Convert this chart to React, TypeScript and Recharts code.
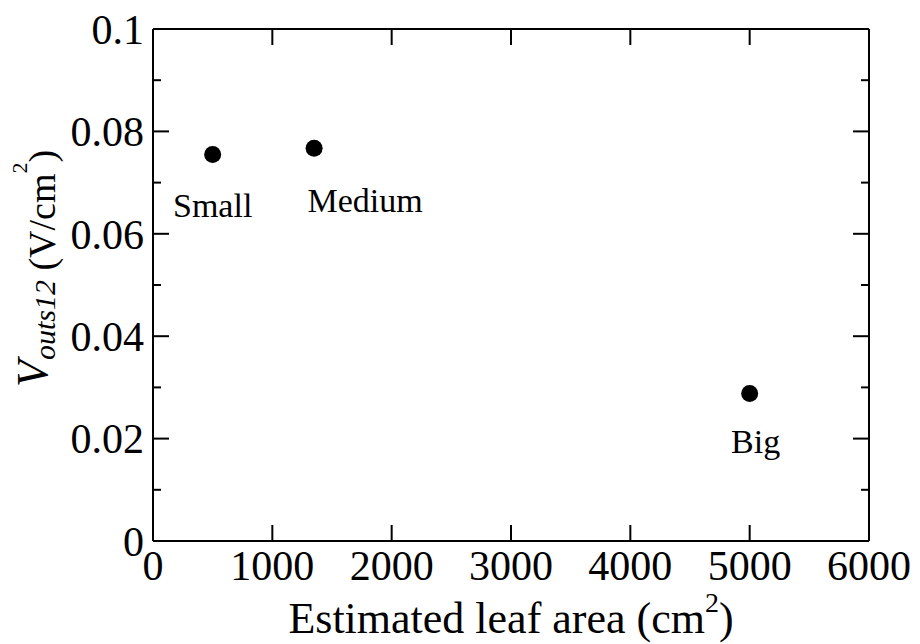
import React from "react";
import {
  ScatterChart,
  Scatter,
  XAxis,
  YAxis,
  ReferenceLine,
  Label,
} from "recharts";

// leaf size groups and measured values
const leafSizes = ["Small", "Medium", "Big"];
const leafArea = [500, 1350, 5000]; // cm^2
const vouts12 = [0.0755, 0.0767, 0.0288]; // V/cm^2

const xTicks = [0, 1000, 2000, 3000, 4000, 5000, 6000];
const yTicks = [0, 0.01, 0.02, 0.03, 0.04, 0.05, 0.06, 0.07, 0.08, 0.09, 0.1];

const data = leafSizes.map((name, i) => ({
  name,
  x: leafArea[i],
  y: vouts12[i],
}));

// plot frame (px)
const W = 920;
const H = 644;
const TOP = 29;
const LEFT = 153;
const RIGHT = 869;
const BOTTOM = 541;

const FONT = "'Liberation Serif', 'Times New Roman', serif";

// where each label sits relative to its dot
const labelShift: Record<string, [number, number]> = {
  Small: [0, 63],
  Medium: [51, 64],
  Big: [6, 59],
};

function XTick(props: any) {
  const { x, y, payload } = props;
  return (
    <g>
      <line x1={x} x2={x} y1={y} y2={y - 16} stroke="#000" strokeWidth={2} />
      <line x1={x} x2={x} y1={TOP} y2={TOP + 16} stroke="#000" strokeWidth={2} />
      <text
        x={x}
        y={y + 39}
        textAnchor="middle"
        fontSize={42}
        fontFamily={FONT}
        fill="#000"
      >
        {payload.value}
      </text>
    </g>
  );
}

function YTick(props: any) {
  const { x, y, payload } = props;
  const v: number = payload.value;
  const major = Math.round(v * 100) % 2 === 0;
  const len = major ? 16 : 8;
  const label = v === 0 ? "0" : v.toFixed(2).replace(/0$/, "");
  return (
    <g>
      <line x1={x} x2={x + len} y1={y} y2={y} stroke="#000" strokeWidth={2} />
      <line x1={RIGHT} x2={RIGHT - len} y1={y} y2={y} stroke="#000" strokeWidth={2} />
      {major && (
        <text
          x={x - 9}
          y={y}
          dy="0.35em"
          textAnchor="end"
          fontSize={42}
          fontFamily={FONT}
          fill="#000"
        >
          {label}
        </text>
      )}
    </g>
  );
}

function Dot(props: any) {
  const { cx, cy, payload } = props;
  const [dx, dy] = labelShift[payload.name] || [0, 60];
  return (
    <g>
      <circle cx={cx} cy={cy} r={8.5} fill="#000" />
      <text
        x={cx + dx}
        y={cy + dy}
        textAnchor="middle"
        fontSize={34}
        fontFamily={FONT}
        fill="#000"
      >
        {payload.name}
      </text>
    </g>
  );
}

function XTitle() {
  return (
    <text
      x={(LEFT + RIGHT) / 2}
      y={633}
      textAnchor="middle"
      fontSize={44}
      fontFamily={FONT}
      fill="#000"
    >
      Estimated leaf area (cm
      <tspan fontSize={28} dy={-21}>2</tspan>
      <tspan dy={21}>)</tspan>
    </text>
  );
}

function YTitle() {
  return (
    <text
      transform="translate(47,387) rotate(-90)"
      x={0}
      y={0}
      fontFamily={FONT}
      fill="#000"
    >
      <tspan fontSize={44} fontStyle="italic">V</tspan>
      <tspan fontSize={30} fontStyle="italic" dy={8}>outs12</tspan>
      <tspan fontSize={38}> (V/cm</tspan>
      <tspan fontSize={22} dy={-28}>2</tspan>
      <tspan fontSize={38} dy={28}>)</tspan>
    </text>
  );
}

export default function App() {
  return (
    <div style={{ position: "absolute", left: 0, top: 0, background: "#fff" }}>
      <ScatterChart
        width={W}
        height={H}
        margin={{ top: TOP, right: W - RIGHT, bottom: 0, left: 0 }}
      >
        <XAxis
          type="number"
          dataKey="x"
          domain={[0, 6000]}
          ticks={xTicks}
          interval={0}
          allowDataOverflow
          height={H - BOTTOM}
          tickSize={0}
          tickMargin={0}
          tick={<XTick />}
          axisLine={{ stroke: "#000", strokeWidth: 2 }}
        >
          <Label content={<XTitle />} />
        </XAxis>
        <YAxis
          type="number"
          dataKey="y"
          domain={[0, 0.1]}
          ticks={yTicks}
          interval={0}
          allowDataOverflow
          width={LEFT}
          tickSize={0}
          tickMargin={0}
          tick={<YTick />}
          axisLine={{ stroke: "#000", strokeWidth: 2 }}
        >
          <Label content={<YTitle />} />
        </YAxis>
        <ReferenceLine y={0.1} stroke="#000" strokeWidth={2} />
        <ReferenceLine x={6000} stroke="#000" strokeWidth={2} />
        <Scatter data={data} shape={<Dot />} isAnimationActive={false} />
      </ScatterChart>
    </div>
  );
}
